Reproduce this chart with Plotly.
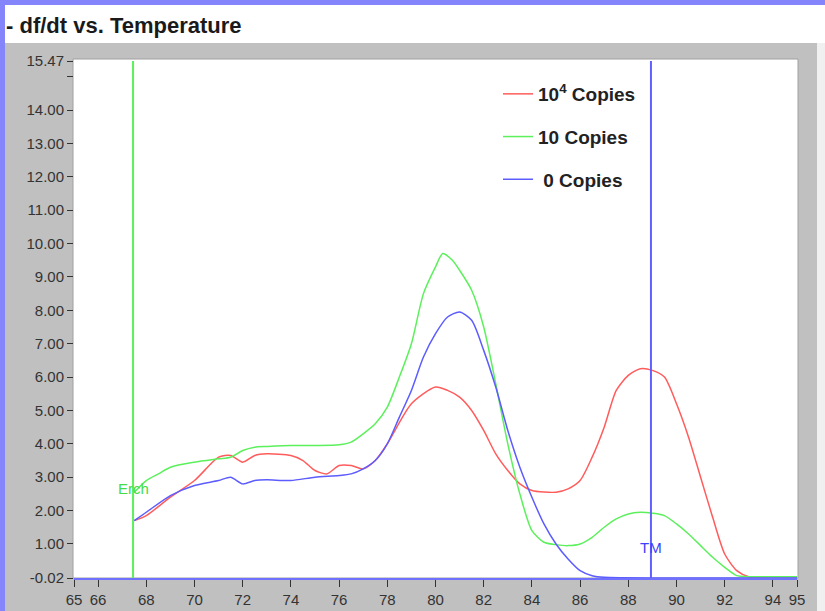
import plotly.graph_objects as go

# ---- data ----
temp_red = [67.5, 68, 69, 70, 71, 71.5, 72, 72.5, 73, 74, 74.5, 75, 75.5, 76, 76.5, 77, 77.5, 78, 79, 80, 80.5, 81, 81.5, 82, 82.5, 83, 83.5, 84, 85, 85.5, 86, 86.5, 87, 87.5, 88, 88.5, 89, 89.5, 90, 90.5, 91, 91.5, 92, 92.5, 93, 94, 95]
val_red = [1.7, 1.85, 2.4, 2.9, 3.6, 3.65, 3.45, 3.65, 3.7, 3.65, 3.5, 3.2, 3.1, 3.35, 3.35, 3.25, 3.5, 4.0, 5.2, 5.7, 5.6, 5.4, 5.0, 4.4, 3.7, 3.2, 2.8, 2.6, 2.55, 2.65, 2.9, 3.6, 4.5, 5.6, 6.05, 6.25, 6.2, 6.0, 5.2, 4.2, 3.0, 1.8, 0.7, 0.2, 0.02, 0.02, 0.02]

temp_green = [67.5, 68, 68.5, 69, 70, 71, 71.5, 72, 72.5, 73, 74, 75, 76, 76.5, 77, 77.5, 78, 78.5, 79, 79.5, 80, 80.3, 80.7, 81, 81.5, 82, 82.5, 83, 83.5, 84, 84.5, 85, 85.5, 86, 86.5, 87, 87.5, 88, 88.5, 89, 89.5, 90, 90.5, 91, 91.5, 92, 92.5, 93, 94, 95]
val_green = [2.55, 2.9, 3.1, 3.3, 3.45, 3.55, 3.6, 3.8, 3.9, 3.92, 3.95, 3.95, 3.97, 4.05, 4.3, 4.6, 5.1, 6.0, 7.0, 8.5, 9.3, 9.7, 9.5, 9.2, 8.6, 7.5, 5.8, 4.0, 2.5, 1.4, 1.05, 0.98, 0.95, 1.0, 1.2, 1.5, 1.75, 1.9, 1.95, 1.92, 1.85, 1.6, 1.3, 0.95, 0.6, 0.3, 0.05, 0.02, 0.02, 0.02]

temp_blue = [67.5, 68, 69, 70, 71, 71.5, 72, 72.5, 73, 74, 75, 76, 76.5, 77, 77.5, 78, 78.5, 79, 79.5, 80, 80.5, 81, 81.5, 82, 82.5, 83, 83.5, 84, 84.5, 85, 85.5, 86, 86.5, 87, 89.5, 95]
val_blue = [1.7, 1.95, 2.45, 2.75, 2.9, 3.0, 2.8, 2.9, 2.92, 2.9, 3.0, 3.05, 3.1, 3.25, 3.5, 4.0, 4.8, 5.6, 6.6, 7.3, 7.8, 7.95, 7.7, 6.8, 5.7, 4.4, 3.3, 2.4, 1.6, 1.0, 0.55, 0.2, 0.05, 0.0, -0.02, -0.02]

series_names = ["10<sup>4</sup> Copies", "10 Copies", " 0 Copies"]
series_colors = ["#ff5c5c", "#5cf05c", "#5c5cff"]

x_ticks = [65, 66, 68, 70, 72, 74, 76, 78, 80, 82, 84, 86, 88, 90, 92, 94, 95]
y_tickvals = [-0.02, 1, 2, 3, 4, 5, 6, 7, 8, 9, 10, 11, 12, 13, 14, 15.47]
y_ticktext = ["-0.02", "1.00", "2.00", "3.00", "4.00", "5.00", "6.00", "7.00", "8.00",
              "9.00", "10.00", "11.00", "12.00", "13.00", "14.00", "15.47"]
y_minor_ticks = [15]

ench_x = 67.45
tm_x = 88.94

# ---- figure ----
W, H = 825, 611
L, R, T, B = 74, 797, 61, 578


def px(xp):
    return (xp - L) / (R - L)


def py(yp):
    return (B - yp) / (B - T)


fig = go.Figure()
for xs, ys, name, col in zip([temp_red, temp_green, temp_blue],
                             [val_red, val_green, val_blue],
                             series_names, series_colors):
    fig.add_trace(go.Scatter(x=xs, y=ys, mode="lines", name=name, legendgroup=name,
                             line=dict(color=col, width=1.5, shape="spline", smoothing=0.7)))

shapes = [
    # gray panel
    dict(type="rect", xref="paper", yref="paper", x0=px(5), x1=px(817), y0=py(611), y1=py(43),
         fillcolor="#c0c0c0", line=dict(width=0), layer="below"),
    # title band
    dict(type="rect", xref="paper", yref="paper", x0=px(5), x1=px(825), y0=py(43), y1=py(5),
         fillcolor="#ffffff", line=dict(width=0), layer="below"),
    # right strip
    dict(type="rect", xref="paper", yref="paper", x0=px(817), x1=px(825), y0=py(611), y1=py(43),
         fillcolor="#f0f0f0", line=dict(width=0), layer="below"),
    # plot area
    dict(type="rect", xref="paper", yref="paper", x0=px(73), x1=px(798), y0=py(578), y1=py(59),
         fillcolor="#ffffff", line=dict(color="#a0a0a0", width=1), layer="below"),
    # vertical markers
    dict(type="line", xref="x", yref="paper", x0=ench_x, x1=ench_x, y0=0, y1=1,
         line=dict(color="#5cf05c", width=2)),
    dict(type="line", xref="x", yref="paper", x0=tm_x, x1=tm_x, y0=0, y1=1,
         line=dict(color="#6060ff", width=2)),
]

annotations = [
    dict(text="- df/dt vs. Temperature", xref="paper", yref="paper", x=px(4), y=py(26),
         xanchor="left", yanchor="middle", showarrow=False,
         font=dict(family="Liberation Sans", size=22, color="#1a1a1a", weight="bold")),
    dict(text="Erch", x=ench_x, y=2.65, xref="x", yref="y", showarrow=False,
         font=dict(family="Liberation Sans Narrow, Liberation Sans", size=15, color="#44dd44")),
    dict(text="TM", x=tm_x, y=0.9, xref="x", yref="y", showarrow=False,
         font=dict(family="Liberation Sans Narrow, Liberation Sans", size=15, color="#4040ff")),
]

tickfont = dict(family="Liberation Sans Narrow, Liberation Sans", size=15, color="#333333")

fig.update_layout(
    width=W, height=H,
    autosize=False,
    margin=dict(l=L, r=W - R, t=T, b=H - B, pad=0, autoexpand=False),
    paper_bgcolor="#8585fb",
    plot_bgcolor="rgba(0,0,0,0)",
    shapes=shapes,
    annotations=annotations,
    showlegend=True,
    legend=dict(x=px(498), y=py(75), xanchor="left", yanchor="top",
                bgcolor="rgba(0,0,0,0)", tracegroupgap=15,
                font=dict(family="Liberation Sans", size=19, color="#222222", weight="bold")),
    xaxis=dict(range=[65, 95], tickvals=x_ticks, ticktext=[str(v) for v in x_ticks],
               ticks="outside", ticklen=7, tickcolor="#333333", tickfont=tickfont,
               automargin=False,
               showgrid=False, zeroline=False, showline=True, linecolor="#7070ff", linewidth=2),
    yaxis=dict(range=[-0.02, 15.47], tickvals=y_tickvals, ticktext=y_ticktext,
               ticks="outside", ticklen=6, tickcolor="#333333", tickfont=tickfont,
               automargin=False,
               minor=dict(tickmode="array", tickvals=y_minor_ticks, ticks="outside",
                          ticklen=6, tickcolor="#333333"),
               showgrid=False, zeroline=False, showline=False),
)

fig.write_html("out.html",
               config={"displayModeBar": False},
               post_script="document.body.style.margin='0';document.body.style.padding='0';"
                           "document.body.style.background='#8585fb';")
